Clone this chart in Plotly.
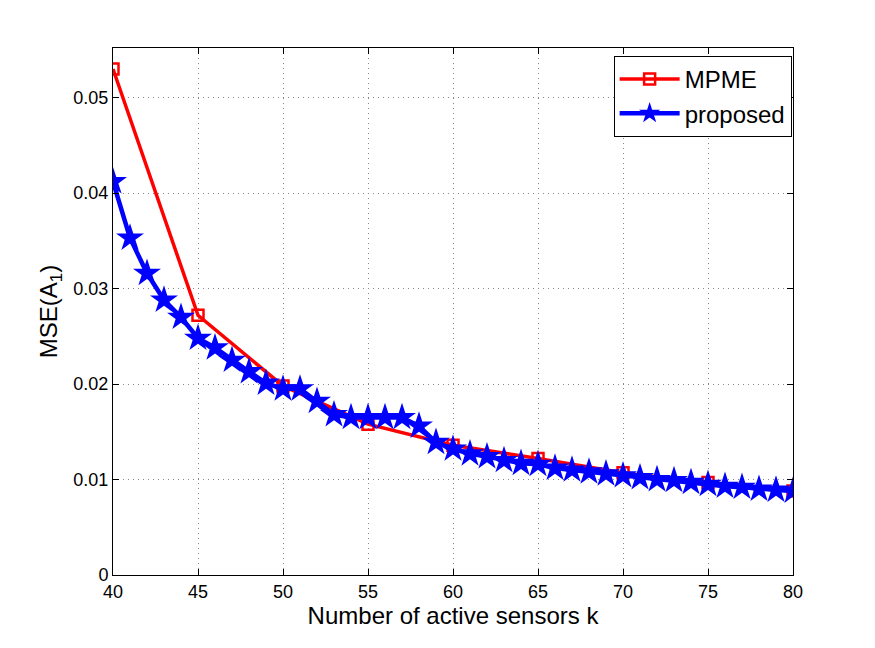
import plotly.graph_objects as go

k_mpme = [40, 45, 50, 55, 60, 65, 70, 75, 80]
mse_mpme = [0.0530, 0.0272, 0.0198, 0.0158, 0.0136, 0.0122, 0.0107, 0.0097, 0.0088]

k_prop = list(range(40, 81))
mse_prop = [0.0412, 0.0353, 0.0316, 0.0288, 0.0270, 0.0248, 0.0238, 0.0225, 0.0213, 0.0201,
            0.0195, 0.0195, 0.0182, 0.0168, 0.0165, 0.0165, 0.0165, 0.0165, 0.0156, 0.0139,
            0.0132, 0.0127, 0.0124, 0.0120, 0.0117, 0.0116, 0.0112, 0.0110, 0.0108, 0.0106,
            0.0104, 0.0102, 0.0100, 0.0099, 0.0097, 0.0095, 0.0093, 0.0092, 0.0090, 0.0089,
            0.0088]

x_ticks = [40, 45, 50, 55, 60, 65, 70, 75, 80]
y_ticks = [0, 0.01, 0.02, 0.03, 0.04, 0.05]
y_tick_text = ["0", "0.01", "0.02", "0.03", "0.04", "0.05"]

font = "Liberation Sans, Arial, sans-serif"

fig = go.Figure()
fig.add_trace(go.Scatter(x=k_mpme, y=mse_mpme, mode="lines+markers", name="MPME",
                         line=dict(color="#ff0000", width=3.5),
                         marker=dict(symbol="square-open", size=11, color="#ff0000",
                                     line=dict(width=2.5, color="#ff0000"))))
fig.add_trace(go.Scatter(x=k_prop, y=mse_prop, mode="lines+markers", name="proposed",
                         line=dict(color="#0000ff", width=4.5),
                         marker=dict(symbol="star", size=21, color="#0000ff",
                                     line=dict(width=0))))

axis_common = dict(showline=True, linecolor="black", linewidth=1, mirror="ticks",
                   ticks="inside", ticklen=6, tickcolor="black",
                   showgrid=True, gridcolor="#888888", griddash="1px,4px", gridwidth=1,
                   zeroline=False, tickfont=dict(size=18, color="black", family=font))

fig.update_layout(
    width=875, height=648,
    margin=dict(l=113, r=82, t=48, b=73),
    paper_bgcolor="white", plot_bgcolor="white",
    font=dict(family=font, color="black"),
    showlegend=True,
    legend=dict(x=0.998, y=0.985, xanchor="right", yanchor="top",
                bgcolor="white", bordercolor="black", borderwidth=1,
                font=dict(size=24, family=font), itemwidth=60, tracegroupgap=0),
    xaxis=dict(range=[40, 80], tickvals=x_ticks,
               title=dict(text="Number of active sensors k", font=dict(size=24), standoff=2),
               **axis_common),
    yaxis=dict(range=[0, 0.0552], tickvals=y_ticks, ticktext=y_tick_text,
               title=dict(text="MSE(A<sub>1</sub>)", font=dict(size=24), standoff=8),
               **axis_common),
)

fig.write_html("out.html")
